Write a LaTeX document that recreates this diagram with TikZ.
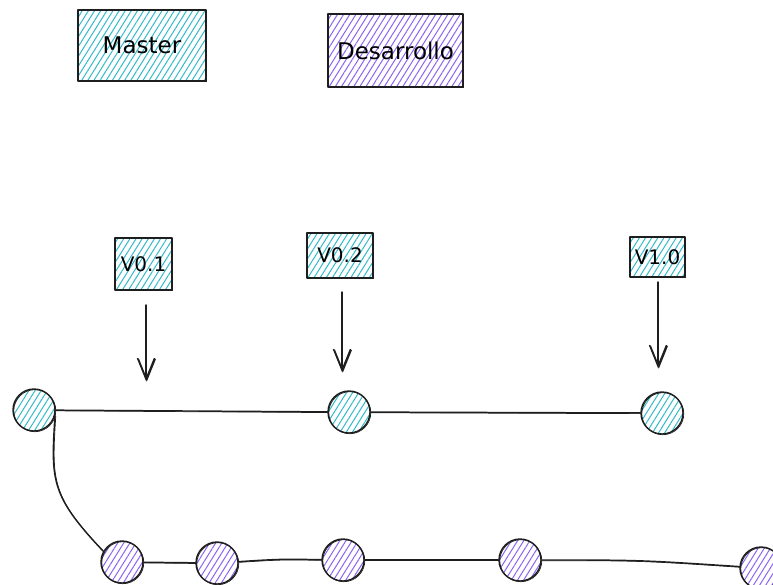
\documentclass[tikz,border=0pt]{standalone}
\usepackage{fontspec}
\setmainfont{DejaVu Sans}
\usetikzlibrary{arrows.meta,patterns.meta}
\definecolor{inkc}{HTML}{1E1E1E}
\definecolor{tealh}{HTML}{34B9C9}
\definecolor{violeth}{HTML}{8A64F0}
\tikzset{
  ink/.style={draw=inkc,line width=1.4pt,line cap=round,line join=round},
  sketch/.style={postaction={draw=inkc,line width=0.7pt,transform canvas={shift={(0.8pt,-0.7pt)}}}},
  hachT/.style={pattern={Lines[angle=58,distance=5.2pt,line width=1pt]},pattern color=tealh},
  hachV/.style={pattern={Lines[angle=58,distance=5.2pt,line width=1pt]},pattern color=violeth},
  labelbox/.style={ink,sketch,rectangle,inner sep=0pt,font=\fontsize{23}{26}\selectfont},
  tagbox/.style={ink,sketch,rectangle,inner sep=0pt,font=\fontsize{20}{23}\selectfont},
  commitT/.style={ink,sketch,circle,hachT,minimum size=42pt,inner sep=0pt},
  commitV/.style={ink,sketch,circle,hachV,minimum size=42pt,inner sep=0pt},
  branch/.style={ink,sketch},
  pointer/.style={ink,sketch,-{Straight Barb[length=21pt,width=17pt,line width=1.4pt]}}
}
\begin{document}
\begin{tikzpicture}[x=1pt,y=-1pt]
\useasboundingbox (0,0) rectangle (773,584);

% legend
\node[labelbox,hachT,minimum width=128pt,minimum height=71pt] (master) at (142,45.5) {Master};
\node[labelbox,hachV,minimum width=135pt,minimum height=73pt] (desa) at (395.5,50.5) {Desarrollo};

% version tags
\node[tagbox,hachT,minimum width=57pt,minimum height=52pt] (t1) at (143.5,264) {V0.1};
\node[tagbox,hachT,minimum width=66pt,minimum height=45pt] (t2) at (340,255.5) {V0.2};
\node[tagbox,hachT,minimum width=55pt,minimum height=40pt] (t3) at (657.5,257) {V1.0};

% arrow ends
\coordinate (a1s) at (146,305);
\coordinate (a1e) at (146,381);
\coordinate (a2s) at (342,292);
\coordinate (a2e) at (342,372);
\coordinate (a3s) at (658,282);
\coordinate (a3e) at (658,368);
\draw[pointer] (a1s) -- (a1e);
\draw[pointer] (a2s) -- (a2e);
\draw[pointer] (a3s) -- (a3e);

% master commits
\node[commitT] (c1) at (34,410) {};
\node[commitT] (c2) at (349,412) {};
\node[commitT] (c3) at (662,413) {};

% development commits
\node[commitV] (d1) at (122,562) {};
\node[commitV] (d2) at (217,563) {};
\node[commitV] (d3) at (343,560) {};
\node[commitV] (d4) at (520,560) {};
\node[commitV] (d5) at (761,568) {};

% branches
\draw[branch] (c1) -- (c2);
\draw[branch] (c2) -- (c3);
\draw[branch] (c1.-15) .. controls (51,480) and (50,495) .. (d1.150);
\draw[branch] (d1) -- (d2);
\draw[branch] (d2) .. controls (280,559) .. (d3);
\draw[branch] (d3) -- (d4);
\draw[branch] (d4) .. controls (640,560) .. (d5);
\end{tikzpicture}
\end{document}
